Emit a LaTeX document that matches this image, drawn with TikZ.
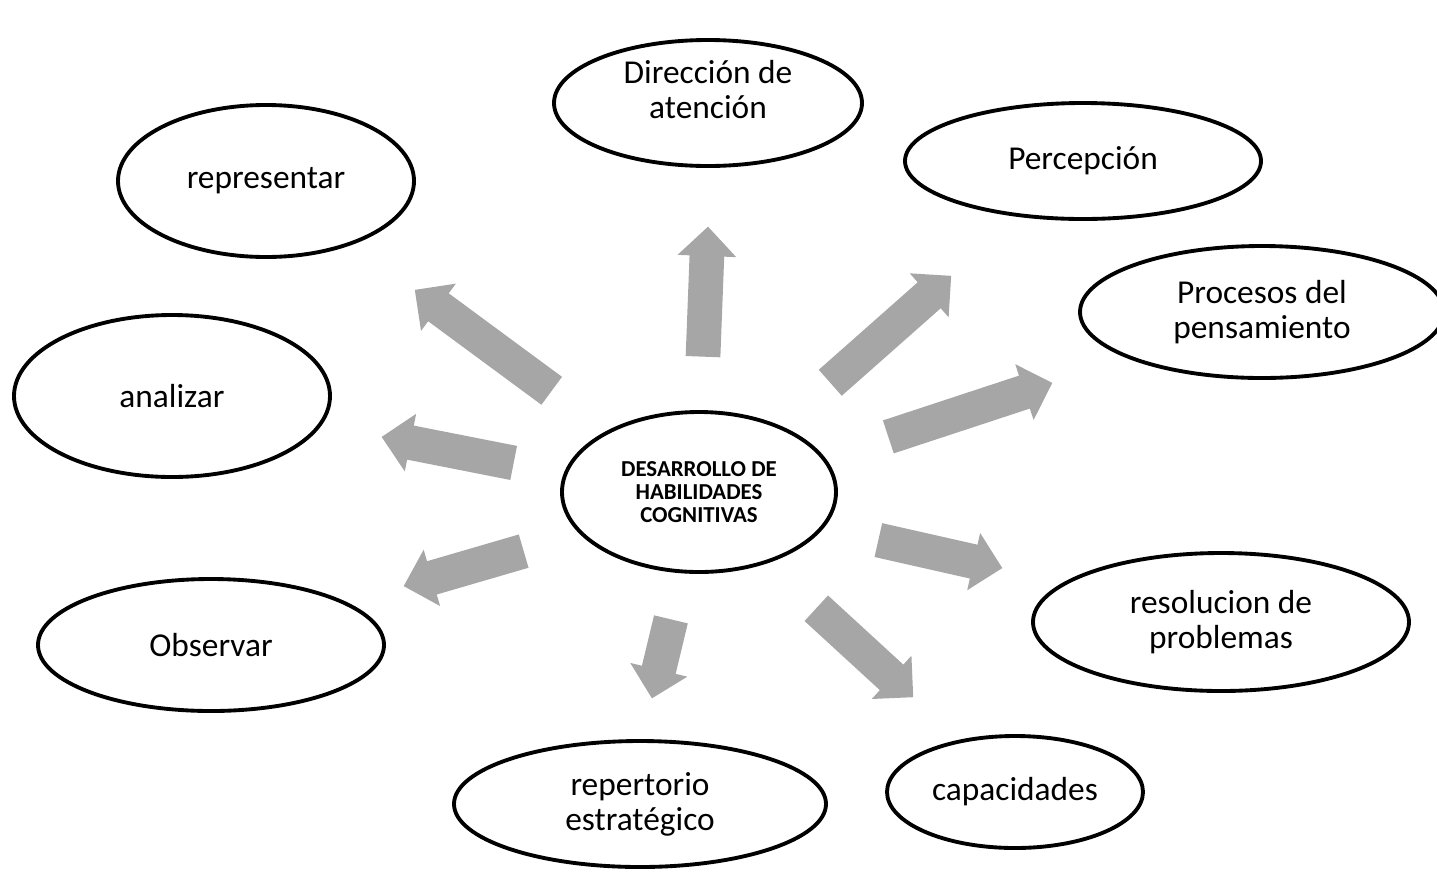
\documentclass[tikz,border=0pt]{standalone}
\usepackage{fontspec}
\setmainfont{Carlito}
\usetikzlibrary{calc,shapes.geometric,shapes.arrows}
\definecolor{blockGray}{RGB}{166,166,166}
\newdimen\px \px=0.02cm
\tikzset{
    every node/.append style={align=center},
    idea/.style={ellipse,draw=black,line width=2.2pt,fill=white,inner sep=0pt,
        font=\fontsize{19}{20}\selectfont},
    core/.style={ellipse,draw=black,line width=2.2pt,fill=white,inner sep=0pt,
        font=\fontsize{13}{13.2}\selectfont\bfseries},
    blkarrow/.style={single arrow,fill=blockGray,draw=none,inner xsep=0pt,
        inner ysep=0.34cm,single arrow head extend=0.24cm,minimum width=0pt}
}

\begin{document}
\begin{tikzpicture}[x=1\px,y=-1\px]
    \useasboundingbox (0,0) rectangle (1437,880);
    % centre
    \node[core,minimum width=274\px,minimum height=160\px] (dhc) at (699,492)
        {DESARROLLO DE\\HABILIDADES\\COGNITIVAS};
    % outer ring
    \node[idea,minimum width=308\px,minimum height=126\px] (dir) at (708,103)
        {\raisebox{1pt}[0pt][0pt]{\begin{tabular}{@{}c@{}}Dirección de\\atención\end{tabular}}};
    \node[idea,minimum width=356\px,minimum height=116\px] (perc)  at (1083,161) {Percepción};
    \node[idea,minimum width=364\px,minimum height=132\px] (proc)  at (1262,312) {Procesos del\\pensamiento};
    \node[idea,minimum width=376\px,minimum height=138\px] (resol) at (1221,622) {resolucion de\\problemas};
    \node[idea,minimum width=256\px,minimum height=112\px] (capac) at (1015,792) {capacidades};
    \node[idea,minimum width=372\px,minimum height=126\px] (reper) at (640,804)  {repertorio\\estratégico};
    \node[idea,minimum width=346\px,minimum height=132\px] (obs)   at (211,645)  {Observar};
    \node[idea,minimum width=316\px,minimum height=162\px] (anal)  at (172,396)  {analizar};
    \node[idea,minimum width=296\px,minimum height=152\px] (repr)  at (266,181)  {representar};

    % block arrow ends
    \coordinate (t1) at (703,357);  \coordinate (h1) at (708,227);
    \coordinate (t2) at (830,383);  \coordinate (h2) at (951,276);
    \coordinate (t3) at (888,437);  \coordinate (h3) at (1052,383);
    \coordinate (t4) at (878,540);  \coordinate (h4) at (1002,568);
    \coordinate (t5) at (816,608);  \coordinate (h5) at (913,697);
    \coordinate (t6) at (671,619);  \coordinate (h6) at (652,698);
    \coordinate (t7) at (524,551);  \coordinate (h7) at (404,586);
    \coordinate (t8) at (514,463);  \coordinate (h8) at (382,437);
    \coordinate (t9) at (552,391);  \coordinate (h9) at (415,290);

    \foreach \t/\h in {t1/h1,t2/h2,t3/h3,t4/h4,t5/h5,t6/h6,t7/h7,t8/h8,t9/h9}
        \path let \p1=($(\h)-(\t)$) in
            node[blkarrow,anchor=tail,rotate={atan2(\y1,\x1)},
                 minimum height={veclen(\x1,\y1)}] (a\t) at (\t) {};
\end{tikzpicture}
\end{document}
